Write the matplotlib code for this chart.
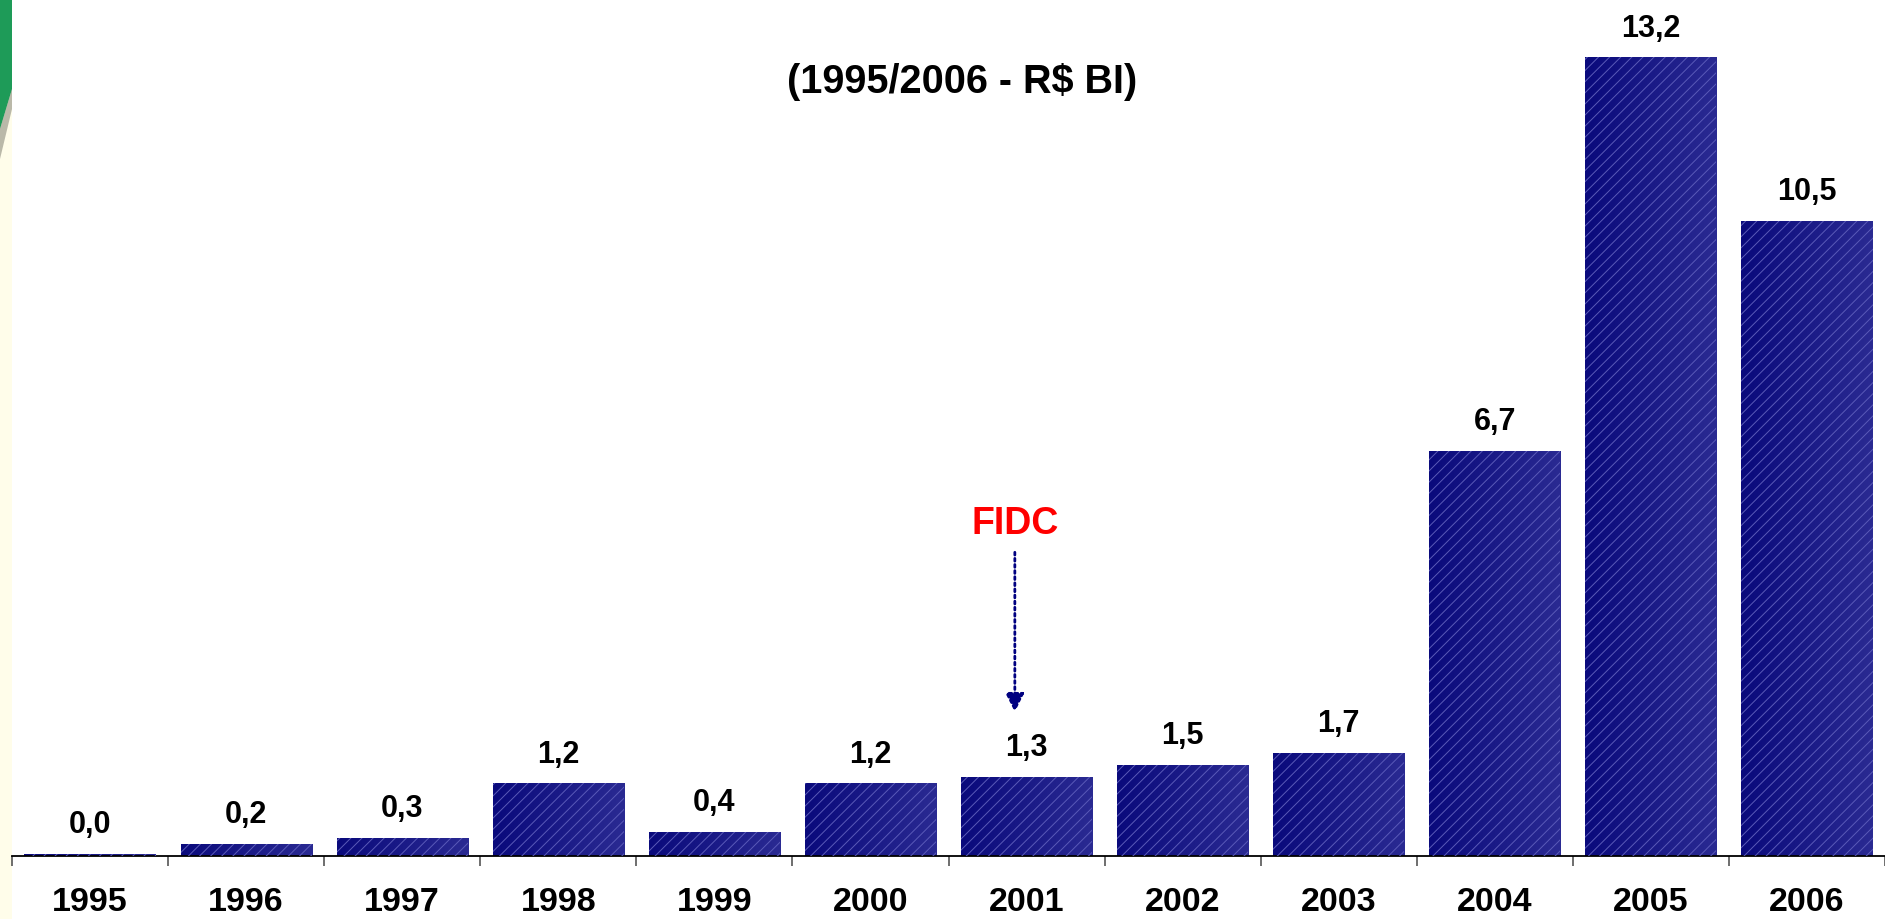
import matplotlib
matplotlib.use("Agg")
import matplotlib.pyplot as plt
import numpy as np
from matplotlib.patches import Rectangle, Polygon
from matplotlib.colors import LinearSegmentedColormap

# data
years = ['1995', '1996', '1997', '1998', '1999', '2000',
         '2001', '2002', '2003', '2004', '2005', '2006']
values = [0.04, 0.2, 0.3, 1.2, 0.4, 1.2, 1.3, 1.5, 1.7, 6.7, 13.2, 10.5]
labels = ['0,0', '0,2', '0,3', '1,2', '0,4', '1,2',
          '1,3', '1,5', '1,7', '6,7', '13,2', '10,5']
title = '(1995/2006 - R$ BI)'
fidc_idx = 6

plt.rcParams['font.family'] = ['Liberation Sans', 'DejaVu Sans']
plt.rcParams['hatch.linewidth'] = 0.7

W, H = 1885, 920
fig = plt.figure(figsize=(W / 100, H / 100), dpi=100)
fig.patch.set_facecolor('white')

# left decoration strip
fig.add_artist(Rectangle((0, 0), 12 / W, 1, transform=fig.transFigure,
                         facecolor='#fffdea', edgecolor='none', zorder=0))
fig.add_artist(Polygon([(0, 1), (12 / W, 1), (12 / W, 1 - 90 / H), (0, 1 - 130 / H)],
                       closed=True, transform=fig.transFigure,
                       facecolor='#1e9b58', edgecolor='none', zorder=1))
fig.add_artist(Polygon([(0, 1 - 130 / H), (12 / W, 1 - 90 / H), (12 / W, 1 - 110 / H), (0, 1 - 160 / H)],
                       closed=True, transform=fig.transFigure,
                       facecolor='#3a3a30', edgecolor='none', alpha=0.35, zorder=1))

ax = fig.add_axes([12 / W, 63 / H, (W - 12) / W, 857 / H])
ax.set_facecolor('none')

x = np.arange(len(years))
bars = ax.bar(x, values, width=0.84, facecolor='none', edgecolor='#5a5ab8',
              linewidth=0, hatch='///', zorder=3)

# horizontal gradient inside each bar
cmap = LinearSegmentedColormap.from_list('navy', ['#0a0a7c', '#2a2a92'])
grad = np.linspace(0, 1, 64).reshape(1, -1)
for b in bars:
    im = ax.imshow(grad, cmap=cmap, aspect='auto', zorder=2,
                   extent=[b.get_x(), b.get_x() + b.get_width(), 0, b.get_height()])
    im.set_clip_path(b)

for xi, v, lab in zip(x, values, labels):
    ax.annotate(lab, (xi, v), xytext=(0, 21.5), textcoords='offset points',
                ha='center', va='center', fontsize=22, fontweight='bold', color='black')
    ax.annotate(years[xi], (xi, 0), xycoords=('data', 'axes fraction'),
                xytext=(0, -33), textcoords='offset points',
                ha='center', va='center', fontsize=24.5, fontweight='bold', color='black')

ax.set_xlim(-0.5, len(years) - 0.5)
ax.set_ylim(0, 857 / 60.5)

for s in ['top', 'right', 'left']:
    ax.spines[s].set_visible(False)
ax.spines['bottom'].set_color('black')
ax.spines['bottom'].set_linewidth(1.3)
ax.set_yticks([])
ax.set_xticks([])
ax.set_xticks(np.arange(-0.5, len(years), 1), minor=True)
ax.tick_params(axis='x', which='minor', length=7, width=1.2, color='#555555', direction='out')

# title
fig.text(962 / W, 1 - 82 / H, title, ha='center', va='center',
         fontsize=28.5, fontweight='bold', color='black')

# FIDC marker
ax_x = fidc_idx - 0.075
ax.annotate('', xy=(ax_x, 2.38), xytext=(ax_x, 5.02),
            arrowprops=dict(arrowstyle='-|>', color='#000080', lw=2,
                            linestyle=(0, (1, 1.2)), mutation_scale=28, shrinkA=0, shrinkB=0))
ax.text(ax_x, 5.50, 'FIDC', ha='center', va='center',
        fontsize=27, fontweight='bold', color='#ff0000')

fig.savefig('out.png', dpi=100)
